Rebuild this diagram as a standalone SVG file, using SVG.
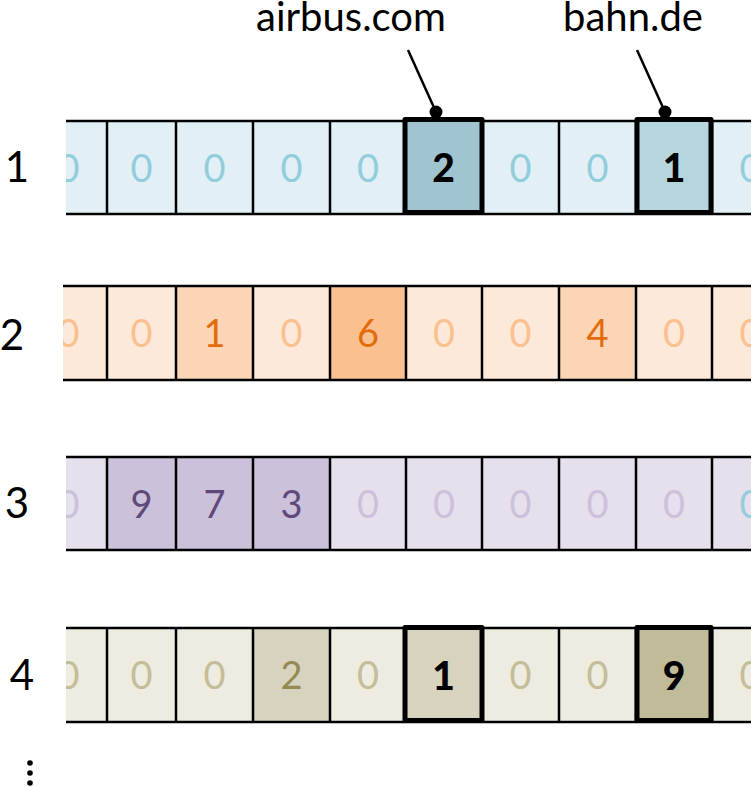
<svg xmlns="http://www.w3.org/2000/svg" width="755" height="787" viewBox="0 0 755 787">
<style>
.lbl{font-family:Lato,"Liberation Sans",sans-serif;font-size:40px;fill:#000}
.rl{font-family:Lato,"Liberation Sans",sans-serif;font-size:42px;fill:#000;text-anchor:middle}
.d{font-family:Lato,"Liberation Sans",sans-serif;font-size:38px;text-anchor:middle}
.b{font-family:Lato,"Liberation Sans",sans-serif;font-size:39px;font-weight:900;text-anchor:middle;fill:#000}
.g{stroke:#000;stroke-width:2.5;fill:none}
.tb{stroke:#000;stroke-width:5;stroke-linejoin:round}
.z1{fill:#92CDDC}.z2{fill:#FAC090}.z3{fill:#CCC1DA}.z4{fill:#C4BD97}
.v2{fill:#E26B0A}.v3{fill:#5F497A}.v4{fill:#948A54}
</style>
<defs>
<clipPath id="c1"><rect x="66" y="0" width="685" height="787"/></clipPath>
<clipPath id="c2"><rect x="63" y="0" width="688" height="787"/></clipPath>
<path id="vl" d="M107 0V93M176 0V93M253 0V93M330 0V93M406 0V93M482 0V93M559 0V93M636 0V93M712 0V93"/>
</defs>

<g id="row1">
<text class="rl" x="17" y="182">1</text>
<g clip-path="url(#c1)">
<rect x="66" y="121" width="685" height="93" fill="#E2F0F6"/>
<use href="#vl" class="g" transform="translate(0,121)"/>
<path class="g" d="M66 121H751M66 214H751"/>
<g class="d z1">
<text x="68.5" y="181.5">0</text><text x="141.5" y="181.5">0</text><text x="214.5" y="181.5">0</text><text x="291.5" y="181.5">0</text><text x="368" y="181.5">0</text><text x="520.5" y="181.5">0</text><text x="597.5" y="181.5">0</text><text x="750.5" y="181.5">0</text>
</g>
</g>
<rect class="tb" x="405" y="119.5" width="77" height="93" fill="#A1C5D0"/>
<text class="b" x="443.5" y="182">2</text>
<rect class="tb" x="637" y="119.5" width="74" height="93" fill="#B7D5DC"/>
<text class="b" x="674" y="182">1</text>
</g>

<g id="row2">
<text class="rl" x="12" y="350">2</text>
<g clip-path="url(#c2)">
<rect x="63" y="286" width="688" height="94" fill="#FDE9D9"/>
<rect x="176" y="286" width="77" height="94" fill="#FBD5B5"/>
<rect x="330" y="286" width="76" height="94" fill="#FAC090"/>
<rect x="559" y="286" width="77" height="94" fill="#FBD5B5"/>
<use href="#vl" class="g" transform="translate(0,286.5)"/>
<path class="g" d="M63 286H751M63 380H751"/>
<g class="d z2">
<text x="68.5" y="347">0</text><text x="141.5" y="347">0</text><text x="291.5" y="347">0</text><text x="444" y="347">0</text><text x="520.5" y="347">0</text><text x="674" y="347">0</text><text x="750.5" y="347">0</text>
</g>
<g class="d v2">
<text x="214.5" y="347">1</text><text x="368" y="347">6</text><text x="597.5" y="347">4</text>
</g>
</g>
</g>

<g id="row3">
<text class="rl" x="17" y="518">3</text>
<g clip-path="url(#c1)">
<rect x="66" y="457" width="685" height="93" fill="#E5E0EC"/>
<rect x="107" y="457" width="223" height="93" fill="#CCC1DA"/>
<use href="#vl" class="g" transform="translate(0,457)"/>
<path class="g" d="M66 457H751M66 550H751"/>
<g class="d z3">
<text x="68.5" y="517.5">0</text><text x="368" y="517.5">0</text><text x="444" y="517.5">0</text><text x="520.5" y="517.5">0</text><text x="597.5" y="517.5">0</text><text x="674" y="517.5">0</text>
</g>
<text class="d z1" x="750.5" y="517.5">0</text>
<g class="d v3">
<text x="141.5" y="517.5">9</text><text x="214.5" y="517.5">7</text><text x="291.5" y="517.5">3</text>
</g>
</g>
</g>

<g id="row4">
<text class="rl" x="22" y="690">4</text>
<g clip-path="url(#c1)">
<rect x="66" y="628" width="685" height="94" fill="#EEECE1"/>
<rect x="253" y="628" width="77" height="94" fill="#D7D3BE"/>
<use href="#vl" class="g" transform="translate(0,628.5)"/>
<path class="g" d="M66 628H751M66 722H751"/>
<g class="d z4">
<text x="68.5" y="689">0</text><text x="141.5" y="689">0</text><text x="214.5" y="689">0</text><text x="368" y="689">0</text><text x="520.5" y="689">0</text><text x="597.5" y="689">0</text><text x="750.5" y="689">0</text>
</g>
<text class="d v4" x="291.5" y="689">2</text>
</g>
<rect class="tb" x="405" y="627.5" width="77" height="93" fill="#D7D3BE"/>
<text class="b" x="443.5" y="689.5">1</text>
<rect class="tb" x="637" y="627.5" width="74" height="93" fill="#C0BB99"/>
<text class="b" x="674" y="689.5">9</text>
</g>

<g id="more">
<circle cx="30" cy="763" r="2.8"/>
<circle cx="30" cy="773" r="2.8"/>
<circle cx="30" cy="783" r="2.8"/>
</g>

<g id="label-airbus">
<text class="lbl" x="351" y="31" text-anchor="middle">airbus.com</text>
</g>
<g id="label-bahn">
<text class="lbl" x="633" y="31" text-anchor="middle">bahn.de</text>
</g>

<g id="connectors" stroke="#000" stroke-width="2.5">
<line x1="408" y1="50" x2="436" y2="112"/>
<circle cx="436" cy="112" r="6.5" fill="#000" stroke="none"/>
<line x1="637" y1="50" x2="665" y2="112"/>
<circle cx="665" cy="112" r="6.5" fill="#000" stroke="none"/>
</g>
</svg>
